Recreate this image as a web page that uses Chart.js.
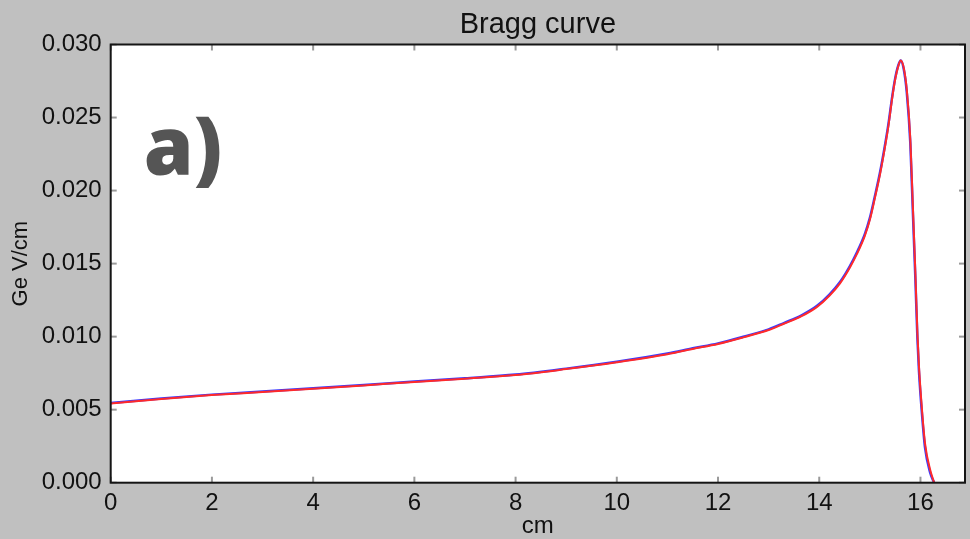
<!DOCTYPE html>
<html>
<head>
<meta charset="utf-8">
<script src="https://cdn.jsdelivr.net/npm/chart.js@4/dist/chart.umd.min.js"></script>
<style>
  html, body { margin: 0; padding: 0; background: #c0c0c0; }
  #wrap { width: 970px; height: 539px; }
</style>
</head>
<body>
<div id="wrap"><canvas id="c" width="970" height="539"></canvas></div>
<script>
// Depth (cm) and energy deposit (GeV/cm)
const depthCm = [0, 1, 2, 3, 4, 5, 6, 7, 8, 9, 10, 11, 11.5, 12, 12.5, 13, 13.3, 13.65, 13.95, 14.2, 14.41, 14.6, 14.75,
  14.9, 15.0, 15.1, 15.2, 15.29, 15.37, 15.44, 15.5, 15.56, 15.61, 15.67, 15.73, 15.80, 15.85, 15.90, 15.94, 15.97, 16.03, 16.09, 16.19, 16.27];
const dEdxRed = [0.00543, 0.00573, 0.00600, 0.00621, 0.00643, 0.00666, 0.00690, 0.00712, 0.00737, 0.00778,
  0.00825, 0.00880, 0.00916, 0.00950, 0.00995, 0.01045, 0.01088, 0.01140, 0.01202, 0.01280, 0.01365, 0.01470, 0.01570,
  0.01690, 0.01800, 0.01950, 0.02110, 0.02280, 0.02450, 0.02630, 0.02760, 0.02850, 0.02890, 0.02840, 0.02690, 0.02350, 0.01890, 0.01430, 0.01020,
  0.00800, 0.00500, 0.00270, 0.00090, 0.00000];
const dEdxBlue = [0.00546, 0.00576, 0.00603, 0.00624, 0.00646, 0.00669, 0.00693, 0.00715, 0.00740, 0.00781,
  0.00828, 0.00884, 0.00920, 0.00954, 0.00999, 0.01050, 0.01093, 0.01146, 0.01209, 0.01288, 0.01374, 0.01480, 0.01581,
  0.01702, 0.01813, 0.01963, 0.02123, 0.02293, 0.02463, 0.02640, 0.02768, 0.02855, 0.02890, 0.02830, 0.02670, 0.02320, 0.01850, 0.01390, 0.00985,
  0.00765, 0.00470, 0.00240, 0.00070, 0.00000];
const xTicks = [0, 2, 4, 6, 8, 10, 12, 14, 16];
const yTicks = [0.000, 0.005, 0.010, 0.015, 0.020, 0.025, 0.030];
const xRange = [0, 16.88];
const yRange = [0, 0.030];
const titleText = 'Bragg curve';
const xTitle = 'cm';
const yTitle = 'Ge V/cm';
const panelLabel = 'a)';

const toPts = (xs, ys) => xs.map((v, i) => ({ x: v, y: ys[i] }));

const FONT = "'Liberation Sans', Arial, Helvetica, sans-serif";

const framePlugin = {
  id: 'framePlugin',
  beforeDatasetsDraw(chart) {
    const { ctx, chartArea: a } = chart;
    ctx.save();
    ctx.fillStyle = '#ffffff';
    ctx.fillRect(a.left, a.top, a.right - a.left, a.bottom - a.top);
    // panel label
    ctx.fillStyle = '#555555';
    ctx.font = "800 80px 'Open Sans', 'DejaVu Sans', sans-serif";
    ctx.textBaseline = 'alphabetic';
    ctx.textAlign = 'left';
    ctx.fillText(panelLabel, a.left + 33, a.top + 130);
    ctx.restore();
  },
  afterDraw(chart) {
    const { ctx, chartArea: a, scales: { x, y } } = chart;
    ctx.save();
    const seg = (x1, y1, x2, y2) => { ctx.beginPath(); ctx.moveTo(x1, y1); ctx.lineTo(x2, y2); ctx.stroke(); };
    ctx.strokeStyle = '#9a9a9a';
    ctx.lineWidth = 2;
    x.ticks.forEach(t => {
      const px = x.getPixelForValue(t.value);
      seg(px, a.bottom, px, a.bottom - 6);
      seg(px, a.top, px, a.top + 6);
    });
    y.ticks.forEach(t => {
      const py = y.getPixelForValue(t.value);
      seg(a.left, py, a.left + 6, py);
      seg(a.right, py, a.right - 6, py);
    });
    ctx.strokeStyle = '#151515';
    ctx.lineWidth = 2;
    ctx.strokeRect(a.left, a.top, a.right - a.left, a.bottom - a.top);
    ctx.restore();
  }
};

new Chart(document.getElementById('c'), {
  type: 'line',
  data: {
    datasets: [
      { data: toPts(depthCm, dEdxBlue), borderColor: '#3a3aff', borderWidth: 2.5, pointRadius: 0,
        cubicInterpolationMode: 'monotone', fill: false, order: 2 },
      { data: toPts(depthCm, dEdxRed), borderColor: '#ff2a2a', borderWidth: 2, pointRadius: 0,
        cubicInterpolationMode: 'monotone', fill: false, order: 1 }
    ]
  },
  options: {
    responsive: false,
    animation: false,
    layout: { padding: { left: 0, right: 5, top: 0, bottom: 0 } },
    plugins: {
      legend: { display: false },
      tooltip: { enabled: false },
      title: { display: false }
    },
    scales: {
      x: {
        type: 'linear', min: xRange[0], max: xRange[1],
        afterBuildTicks: s => { s.ticks = xTicks.map(v => ({ value: v })); },
        afterFit: s => { s.height = 56.3; },
        ticks: { color: '#111', font: { family: FONT, size: 24 }, padding: 6, callback: v => String(v) },
        grid: { display: false, drawTicks: false },
        border: { display: false },
        title: { display: true, text: xTitle, color: '#111', font: { family: FONT, size: 24 }, padding: { top: 0, bottom: -2 } }
      },
      xTop: {
        type: 'linear', position: 'top', min: xRange[0], max: xRange[1],
        afterFit: s => { s.height = 44.5; },
        ticks: { display: false },
        grid: { display: false, drawTicks: false },
        border: { display: false },
        title: { display: true, text: titleText, color: '#111', font: { family: FONT, size: 29 }, padding: { top: 8, bottom: 0 } }
      },
      y: {
        type: 'linear', min: yRange[0], max: yRange[1],
        afterBuildTicks: s => { s.ticks = yTicks.map(v => ({ value: v })); },
        afterFit: s => { s.width = 110.7; },
        ticks: { color: '#111', font: { family: FONT, size: 24 }, padding: 9, callback: v => v.toFixed(3) },
        grid: { display: false, drawTicks: false },
        border: { display: false },
        title: { display: true, text: yTitle, color: '#111', font: { family: FONT, size: 22 }, padding: { top: 8, bottom: 8 } }
      }
    }
  },
  plugins: [framePlugin]
});
</script>
</body>
</html>
